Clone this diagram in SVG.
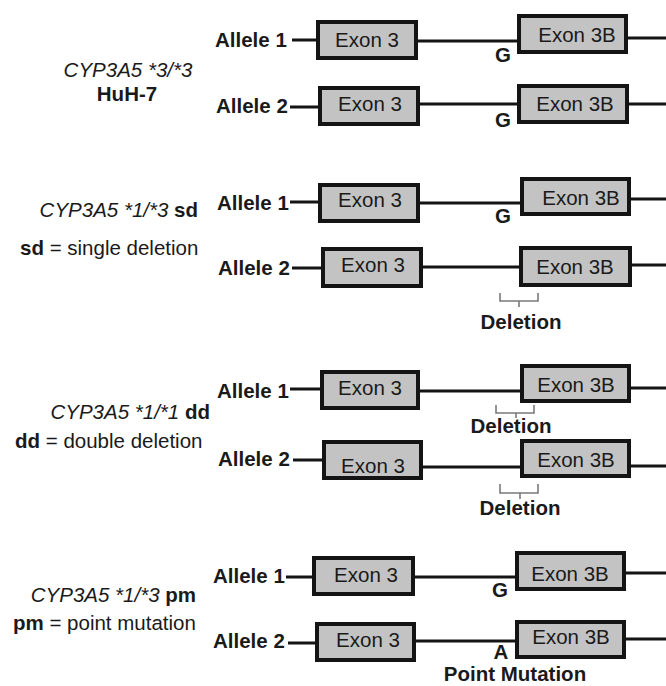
<svg xmlns="http://www.w3.org/2000/svg" width="666" height="686" viewBox="0 0 666 686">
<style>
text{font-family:"Liberation Sans",Arial,sans-serif;font-size:20.5px;fill:#1a1a1a}
.b{font-weight:bold}
.i{font-style:italic}
.m{text-anchor:middle}
.e{text-anchor:end}
.box{fill:#c3c3c3;stroke:#141414;stroke-width:4}
.ln{stroke:#141414;stroke-width:3;fill:none}
.br{stroke:#7a7a7a;stroke-width:1.6;fill:none}
</style>
<rect width="666" height="686" fill="#fff"/>
<g id="connectors">
<path class="ln" d="M292 40H316M418 41H517M628 38H666"/>
<path class="ln" d="M290 107H318M420 104H517M629 104H666"/>
<path class="ln" d="M290 202H318M420 203H520M631 199H666"/>
<path class="ln" d="M292 268H321M423 267H519M632 265H666"/>
<path class="ln" d="M290 389H320M420 391H520M631 388H666"/>
<path class="ln" d="M293 460H322M423 467H520M631 466H666"/>
<path class="ln" d="M286 577H312M415 577H515M626 573H666"/>
<path class="ln" d="M288 643H315M416 641H515M626 639H666"/>
</g>
<g id="labels">
<text class="i m" x="128" y="77">CYP3A5 *3/*3</text>
<text class="b m" x="127" y="101">HuH-7</text>
<text class="e" x="198" y="217"><tspan class="i">CYP3A5 *1/*3</tspan> <tspan class="b">sd</tspan></text>
<text x="20" y="255"><tspan class="b">sd</tspan> = single deletion</text>
<text class="e" x="210" y="419"><tspan class="i">CYP3A5 *1/*1</tspan> <tspan class="b">dd</tspan></text>
<text x="15" y="448"><tspan class="b">dd</tspan> = double deletion</text>
<text class="e" x="196" y="602"><tspan class="i">CYP3A5 *1/*3</tspan> <tspan class="b">pm</tspan></text>
<text x="13" y="630"><tspan class="b">pm</tspan> = point mutation</text>
</g>
<g id="g1a1">
<text class="b" x="215" y="47">Allele 1</text>
<g id="g1a1e3"><rect class="box" x="318" y="22" width="98" height="36"/><text class="m" x="367" y="47">Exon 3</text></g>
<g id="g1a1e3b"><rect class="box" x="519" y="16" width="107" height="36"/><text class="m" x="577" y="42">Exon 3B</text></g>
<text class="b m" x="503" y="62">G</text>
</g>
<g id="g1a2">
<text class="b" x="216" y="113">Allele 2</text>
<g id="g1a2e3"><rect class="box" x="320" y="88" width="98" height="36"/><text class="m" x="370" y="111">Exon 3</text></g>
<g id="g1a2e3b"><rect class="box" x="519" y="86" width="108" height="36"/><text class="m" x="575" y="111">Exon 3B</text></g>
<text class="b m" x="503" y="127">G</text>
</g>
<g id="g2a1">
<text class="b" x="217" y="210">Allele 1</text>
<g id="g2a1e3"><rect class="box" x="320" y="185" width="98" height="36"/><text class="m" x="370" y="207">Exon 3</text></g>
<g id="g2a1e3b"><rect class="box" x="522" y="179" width="107" height="35"/><text class="m" x="581" y="205">Exon 3B</text></g>
<text class="b m" x="503" y="223">G</text>
</g>
<g id="g2a2">
<text class="b" x="218" y="275">Allele 2</text>
<g id="g2a2e3"><rect class="box" x="323" y="249" width="98" height="37"/><text class="m" x="373" y="272">Exon 3</text></g>
<g id="g2a2e3b"><rect class="box" x="521" y="248" width="109" height="37"/><text class="m" x="575" y="274">Exon 3B</text></g>
<path class="br" d="M500 293V301H538V293M519 301V307"/>
<text class="b m" x="521" y="329">Deletion</text>
</g>
<g id="g3a1">
<text class="b" x="217" y="398">Allele 1</text>
<g id="g3a1e3"><rect class="box" x="322" y="372" width="96" height="36"/><text class="m" x="370" y="395">Exon 3</text></g>
<g id="g3a1e3b"><rect class="box" x="522" y="366" width="107" height="35"/><text class="m" x="576" y="392">Exon 3B</text></g>
<path class="br" d="M496 405V413H534V405M516 413V418"/>
<text class="b m" x="511" y="433">Deletion</text>
</g>
<g id="g3a2">
<text class="b" x="218" y="466">Allele 2</text>
<g id="g3a2e3"><rect class="box" x="324" y="442" width="97" height="36"/><text class="m" x="373" y="473">Exon 3</text></g>
<g id="g3a2e3b"><rect class="box" x="522" y="441" width="107" height="35"/><text class="m" x="576" y="467">Exon 3B</text></g>
<path class="br" d="M500 484V493H538V484M520 493V499"/>
<text class="b m" x="520" y="515">Deletion</text>
</g>
<g id="g4a1">
<text class="b" x="213" y="583">Allele 1</text>
<g id="g4a1e3"><rect class="box" x="314" y="558" width="99" height="36"/><text class="m" x="366" y="582">Exon 3</text></g>
<g id="g4a1e3b"><rect class="box" x="517" y="553" width="107" height="36"/><text class="m" x="570" y="581">Exon 3B</text></g>
<text class="b m" x="500" y="597">G</text>
</g>
<g id="g4a2">
<text class="b" x="213" y="648">Allele 2</text>
<g id="g4a2e3"><rect class="box" x="317" y="624" width="97" height="36"/><text class="m" x="368" y="647">Exon 3</text></g>
<g id="g4a2e3b"><rect class="box" x="517" y="622" width="107" height="35"/><text class="m" x="571" y="644">Exon 3B</text></g>
<text class="b m" x="501" y="659" font-size="18">A</text>
<text class="b m" x="515" y="681" font-size="20">Point Mutation</text>
</g>
</svg>
